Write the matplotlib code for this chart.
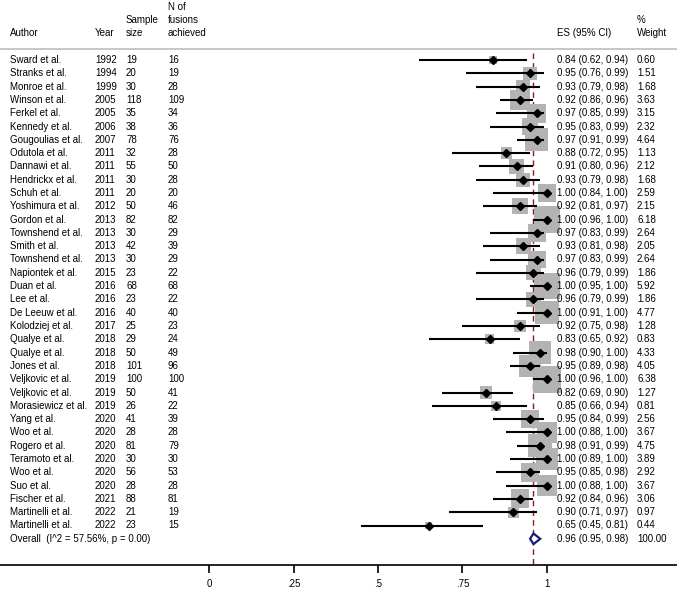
import numpy as np
from matplotlib import pyplot as plt

plt.rcParams['font.family'] = ['Liberation Sans', 'DejaVu Sans']
plt.rcParams['font.size'] = 7

authors = ["Sward et al.", "Stranks et al.", "Monroe et al.", "Winson et al.", "Ferkel et al.",
           "Kennedy et al.", "Gougoulias et al.", "Odutola et al.", "Dannawi et al.", "Hendrickx et al.",
           "Schuh et al.", "Yoshimura et al.", "Gordon et al.", "Townshend et al.", "Smith et al.",
           "Townshend et al.", "Napiontek et al.", "Duan et al.", "Lee et al.", "De Leeuw et al.",
           "Kolodziej et al.", "Qualye et al.", "Qualye et al.", "Jones et al.", "Veljkovic et al.",
           "Veljkovic et al.", "Morasiewicz et al.", "Yang et al.", "Woo et al.", "Rogero et al.",
           "Teramoto et al.", "Woo et al.", "Suo et al.", "Fischer et al.", "Martinelli et al.",
           "Martinelli et al."]
years = [1992, 1994, 1999, 2005, 2005, 2006, 2007, 2011, 2011, 2011, 2011, 2012, 2013, 2013, 2013,
         2013, 2015, 2016, 2016, 2016, 2017, 2018, 2018, 2018, 2019, 2019, 2019, 2020, 2020, 2020,
         2020, 2020, 2020, 2021, 2022, 2022]
sample = [19, 20, 30, 118, 35, 38, 78, 32, 55, 30, 20, 50, 82, 30, 42, 30, 23, 68, 23, 40, 25, 29,
          50, 101, 100, 50, 26, 41, 28, 81, 30, 56, 28, 88, 21, 23]
fusions = [16, 19, 28, 109, 34, 36, 76, 28, 50, 28, 20, 46, 82, 29, 39, 29, 22, 68, 22, 40, 23, 24,
           49, 96, 100, 41, 22, 39, 28, 79, 30, 53, 28, 81, 19, 15]
es = [0.84, 0.95, 0.93, 0.92, 0.97, 0.95, 0.97, 0.88, 0.91, 0.93, 1.00, 0.92, 1.00, 0.97, 0.93,
      0.97, 0.96, 1.00, 0.96, 1.00, 0.92, 0.83, 0.98, 0.95, 1.00, 0.82, 0.85, 0.95, 1.00, 0.98,
      1.00, 0.95, 1.00, 0.92, 0.90, 0.65]
lo = [0.62, 0.76, 0.79, 0.86, 0.85, 0.83, 0.91, 0.72, 0.80, 0.79, 0.84, 0.81, 0.96, 0.83, 0.81,
      0.83, 0.79, 0.95, 0.79, 0.91, 0.75, 0.65, 0.90, 0.89, 0.96, 0.69, 0.66, 0.84, 0.88, 0.91,
      0.89, 0.85, 0.88, 0.84, 0.71, 0.45]
hi = [0.94, 0.99, 0.98, 0.96, 0.99, 0.99, 0.99, 0.95, 0.96, 0.98, 1.00, 0.97, 1.00, 0.99, 0.98,
      0.99, 0.99, 1.00, 0.99, 1.00, 0.98, 0.92, 1.00, 0.98, 1.00, 0.90, 0.94, 0.99, 1.00, 0.99,
      1.00, 0.98, 1.00, 0.96, 0.97, 0.81]
weight = [0.60, 1.51, 1.68, 3.63, 3.15, 2.32, 4.64, 1.13, 2.12, 1.68, 2.59, 2.15, 6.18, 2.64, 2.05,
          2.64, 1.86, 5.92, 1.86, 4.77, 1.28, 0.83, 4.33, 4.05, 6.38, 1.27, 0.81, 2.56, 3.67, 4.75,
          3.89, 2.92, 3.67, 3.06, 0.97, 0.44]
overall_es, overall_lo, overall_hi = 0.96, 0.95, 0.98
overall_label = "Overall  (I^2 = 57.56%, p = 0.00)"
xticks = [0, 0.25, 0.5, 0.75, 1]
xticklabels = ["0", ".25", ".5", ".75", "1"]

n = len(authors)
rows = np.arange(n)
W, H = 677, 590
fig = plt.figure(figsize=(W / 100, H / 100), dpi=100)
ax = fig.add_axes([0, 0, 1, 1])

# pixel -> data mapping: x=0 at 209px, 338px per unit; row 0 at 60px, 13.3px per row
x0, xs = 209, 338
y0, ys = 60, 13.3
ax.set_xlim(-x0 / xs, (W - x0) / xs)
ax.set_ylim((H - y0) / ys, -y0 / ys)
xpix = lambda px: (px - x0) / xs
axis_y = (565 - y0) / ys

# columns
tx = dict(author=xpix(10), year=xpix(95), samp=xpix(126), nf=xpix(168), es=xpix(557), w=xpix(637))
ax.text(tx['author'], -2, "Author", va='center')
ax.text(tx['year'], -2, "Year", va='center')
ax.text(tx['samp'], -3, "Sample", va='center')
ax.text(tx['samp'], -2, "size", va='center')
ax.text(tx['nf'], -4, "N of", va='center')
ax.text(tx['nf'], -3, "fusions", va='center')
ax.text(tx['nf'], -2, "achieved", va='center')
ax.text(tx['es'], -2, "ES (95% CI)", va='center')
ax.text(tx['w'], -3, "%", va='center')
ax.text(tx['w'], -2, "Weight", va='center')
ax.axhline(-0.83, color='#bdbdbd', lw=1.2)

ax.plot([overall_es, overall_es], [-0.5, axis_y], color='#8b1a1a', lw=1, ls=(0, (4, 3)), zorder=1)

ax.scatter(es, rows, s=[60.5 * w for w in weight], marker='s', color='#b3b3b3', linewidths=0, zorder=2)
ax.hlines(rows, lo, hi, color='black', lw=1.5, zorder=3)
ax.plot(es, rows, 'D', color='black', ms=3.8, zorder=4)

for i in range(n):
    ax.text(tx['author'], i, authors[i], va='center')
    ax.text(tx['year'], i, str(years[i]), va='center')
    ax.text(tx['samp'], i, str(sample[i]), va='center')
    ax.text(tx['nf'], i, str(fusions[i]), va='center')
    ax.text(tx['es'], i, "%.2f (%.2f, %.2f)" % (es[i], lo[i], hi[i]), va='center')
    ax.text(tx['w'], i, "%.2f" % weight[i], va='center')

# overall
ax.fill([overall_lo, overall_es, overall_hi, overall_es],
        [n, n - 0.4, n, n + 0.4], facecolor='white', edgecolor='#1a1a7a', lw=1.6, zorder=4)
ax.text(tx['author'], n, overall_label, va='center')
ax.text(tx['es'], n, "%.2f (%.2f, %.2f)" % (overall_es, overall_lo, overall_hi), va='center')
ax.text(tx['w'], n, "100.00", va='center')

for s in ['top', 'left', 'right']:
    ax.spines[s].set_visible(False)
ax.spines['bottom'].set_position(('data', axis_y))
ax.spines['bottom'].set_linewidth(1.2)
ax.set_yticks([])
ax.set_xticks(xticks)
ax.set_xticklabels(xticklabels)
ax.tick_params(axis='x', direction='out', length=6, width=1.2, pad=4, labelsize=7)

fig.savefig("out.png", dpi=100)
